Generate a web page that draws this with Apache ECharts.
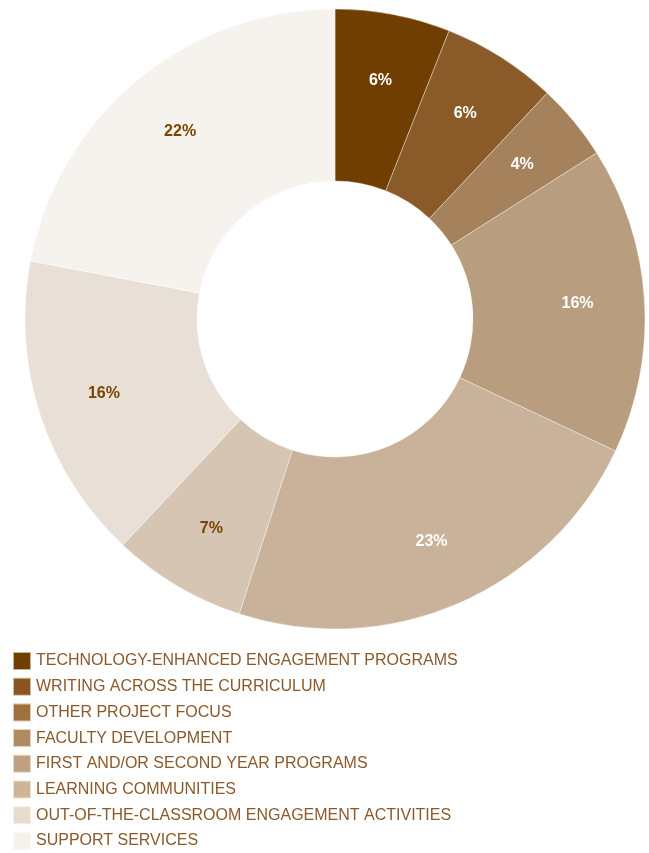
<!DOCTYPE html>
<html>
<head>
<meta charset="utf-8">
<script src="https://cdn.jsdelivr.net/npm/echarts@6/dist/echarts.min.js"></script>
<style>
html,body{margin:0;padding:0;background:#fff;}
#chart{width:649px;height:853px;}
</style>
</head>
<body>
<div id="chart"></div>
<script>
var categories = [
  'TECHNOLOGY-ENHANCED ENGAGEMENT PROGRAMS',
  'WRITING ACROSS THE CURRICULUM',
  'OTHER PROJECT FOCUS',
  'FACULTY DEVELOPMENT',
  'FIRST AND/OR SECOND YEAR PROGRAMS',
  'LEARNING COMMUNITIES',
  'OUT-OF-THE-CLASSROOM ENGAGEMENT ACTIVITIES',
  'SUPPORT SERVICES'
];
var values = [6, 6, 4, 16, 23, 7, 16, 22];
var sliceColors = ['#703F00', '#8A5A28', '#A5825C', '#B89D7E', '#C9B29A', '#D6C5B3', '#E8E0D6', '#F6F3EF'];
var legendColors = ['#703F00', '#8A5520', '#A0703F', '#B08A62', '#C0A080', '#D0B498', '#E8DCCB', '#F6F1EB'];
var labelColors = ['#fff', '#fff', '#fff', '#fff', '#fff', '#7A4300', '#7A4300', '#7A4300'];

var chart = echarts.init(document.getElementById('chart'), null, {renderer: 'canvas'});

var pieData = categories.map(function (c, i) {
  return {name: c, value: values[i], itemStyle: {color: sliceColors[i]}};
});
var labelData = categories.map(function (c, i) {
  return {name: c, value: values[i], label: {color: labelColors[i]}};
});

chart.setOption({
  animation: false,
  legend: {
    orient: 'vertical',
    left: 12,
    top: 651,
    height: 202,
    padding: 0,
    itemWidth: 18,
    itemHeight: 18,
    itemGap: 5.7,
    icon: 'rect',
    selectedMode: false,
    textStyle: {color: '#8B5A2B', fontSize: 16, fontFamily: 'Liberation Sans', lineHeight: 18},
    data: categories.map(function (c, i) {
      return {name: c, itemStyle: {color: legendColors[i]}};
    })
  },
  series: [
    {
      type: 'pie',
      center: [335, 319],
      radius: [138, 310],
      startAngle: 90,
      clockwise: true,
      silent: true,
      label: {show: false},
      labelLine: {show: false},
      itemStyle: {borderColor: 'rgba(255,255,255,0.6)', borderWidth: 0.6},
      data: pieData
    },
    {
      type: 'pie',
      center: [335, 319],
      radius: [170, 310],
      startAngle: 90,
      clockwise: true,
      silent: true,
      itemStyle: {color: 'rgba(0,0,0,0)'},
      label: {
        show: true,
        position: 'inside',
        formatter: '{c}%',
        fontSize: 16,
        fontWeight: 'bold',
        fontFamily: 'Liberation Sans'
      },
      labelLine: {show: false},
      data: labelData
    }
  ]
});
</script>
</body>
</html>
